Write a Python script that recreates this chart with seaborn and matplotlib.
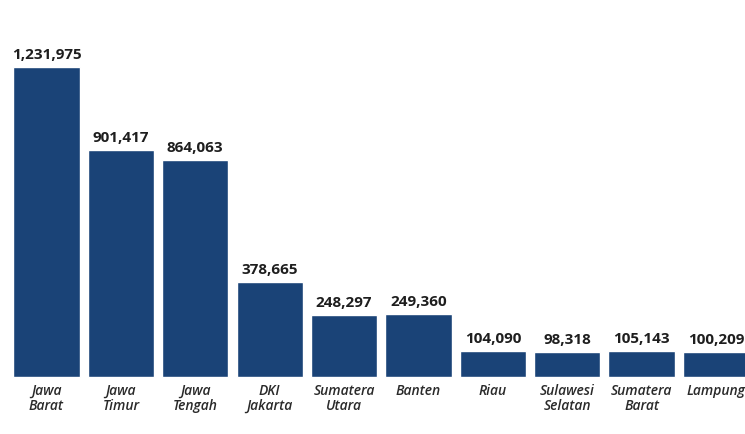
import matplotlib
matplotlib.use("Agg")
import matplotlib.pyplot as plt
import seaborn as sns
import pandas as pd

provinces = ["Jawa\nBarat", "Jawa\nTimur", "Jawa\nTengah", "DKI\nJakarta", "Sumatera\nUtara",
             "Banten", "Riau", "Sulawesi\nSelatan", "Sumatera\nBarat", "Lampung"]
values = [1231975, 901417, 864063, 378665, 248297, 249360, 104090, 98318, 105143, 100209]
value_labels = ["1,231,975", "901,417", "864,063", "378,665", "248,297",
                "249,360", "104,090", "98,318", "105,143", "100,209"]

df = pd.DataFrame({"prov": provinces, "val": values})

sns.set_theme(style="white")
plt.rcParams['font.family'] = ['Open Sans', 'DejaVu Sans']

fig = plt.figure(figsize=(7.45, 4.34), dpi=100)
ax = fig.add_axes([0, 0, 1, 1])
sns.barplot(data=df, x="prov", y="val", order=provinces, color="#1a4377",
            saturation=1, width=0.89, ax=ax)

px = 1231975 / 310.0
ax.set_ylim(-57 * px, (434 - 57) * px)
ax.set_xlim(-0.625, 9.39)
ax.axis("off")

for i, (v, lab, cat) in enumerate(zip(values, value_labels, provinces)):
    ax.text(i, v + 5 * px, lab, ha="center", va="bottom", fontsize=11,
            fontweight="bold", color="#1e1e1e")
    ax.text(i, -7 * px, cat, ha="center", va="top", fontsize=10,
            fontstyle="italic", fontweight="semibold", color="#2a2a2a",
            linespacing=1.05)

fig.savefig("out.png", dpi=100, facecolor="white")
